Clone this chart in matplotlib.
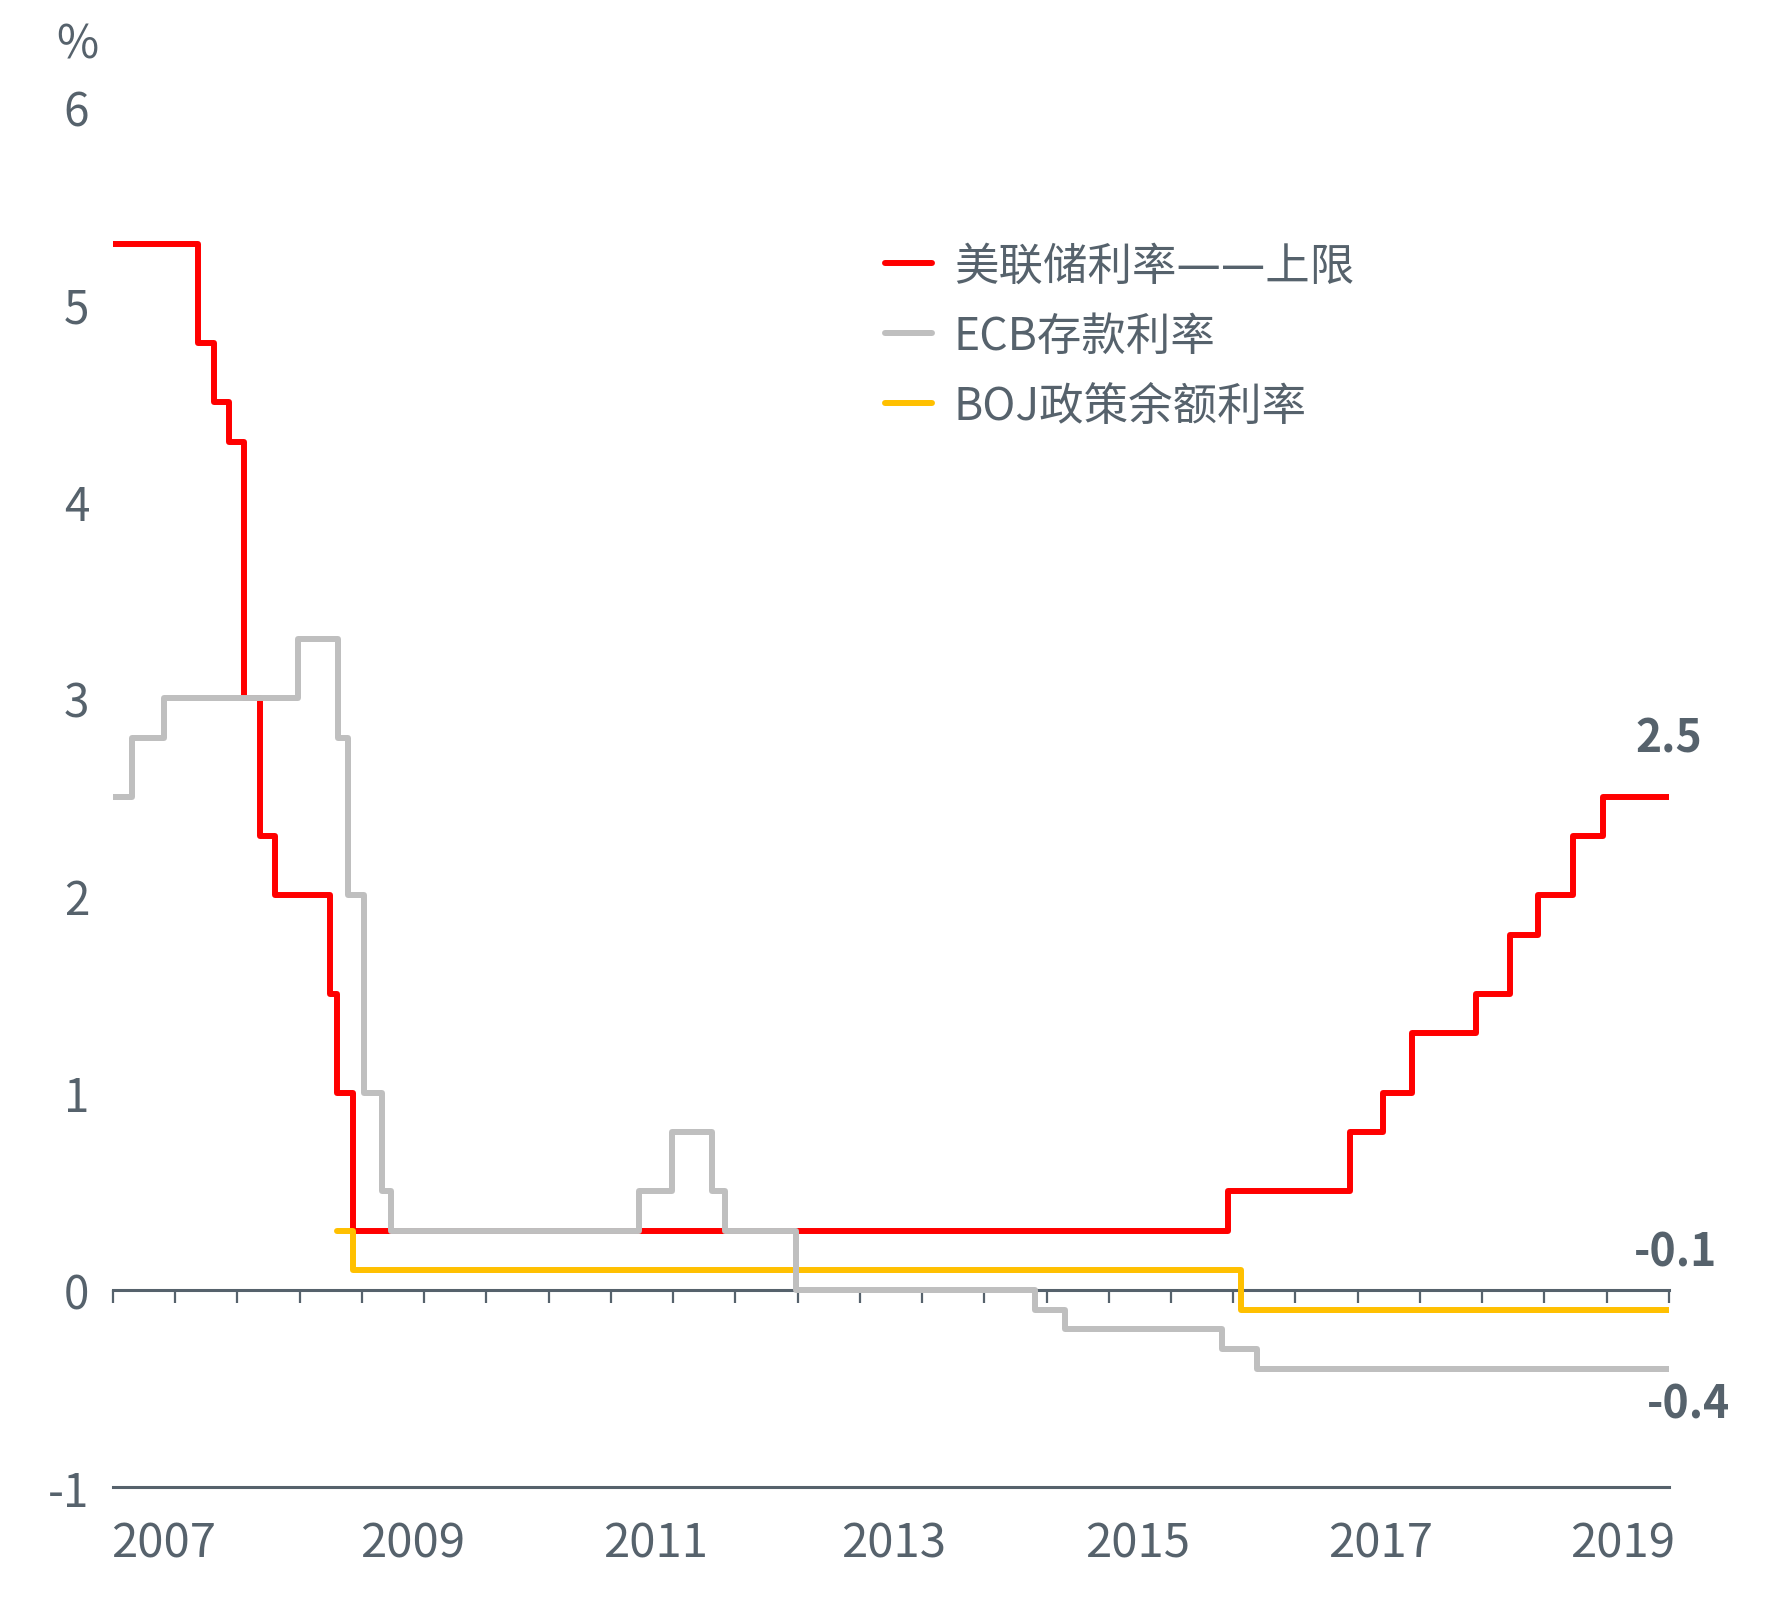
import matplotlib.pyplot as plt
from matplotlib.ticker import MultipleLocator

plt.rcParams['font.family'] = ['Noto Sans CJK SC', 'DejaVu Sans']
plt.rcParams['axes.unicode_minus'] = False

# step series: date (decimal year) where a rate starts, and the rate
fed_dates = [2007.0, 2007.68, 2007.81, 2007.93, 2008.05, 2008.18, 2008.30, 2008.74,
             2008.80, 2008.93, 2015.96, 2016.94, 2017.20, 2017.44, 2017.95, 2018.22,
             2018.45, 2018.73, 2018.97, 2019.5]
fed_rates = [5.3, 4.8, 4.5, 4.3, 3.0, 2.3, 2.0, 1.5,
             1.0, 0.3, 0.5, 0.8, 1.0, 1.3, 1.5, 1.8,
             2.0, 2.3, 2.5, 2.5]

ecb_dates = [2007.0, 2007.15, 2007.41, 2008.49, 2008.81, 2008.89, 2009.02, 2009.16,
             2009.23, 2011.23, 2011.49, 2011.81, 2011.92, 2012.49, 2014.41, 2014.65,
             2015.91, 2016.19, 2019.5]
ecb_rates = [2.5, 2.8, 3.0, 3.3, 2.8, 2.0, 1.0, 0.5,
             0.3, 0.5, 0.8, 0.5, 0.3, 0.0, -0.1, -0.2,
             -0.3, -0.4, -0.4]

boj_dates = [2008.80, 2008.93, 2016.06, 2019.5]
boj_rates = [0.3, 0.1, -0.1, -0.1]

series_names = ['美联储利率——上限', 'ECB存款利率', 'BOJ政策余额利率']
year_labels = ['2007', '2009', '2011', '2013', '2015', '2017', '2019']
year_label_pos = [2007.41, 2009.41, 2011.36, 2013.27, 2015.23, 2017.18, 2019.13]

RED = '#ff0000'
GREY = '#bfbfbf'
GOLD = '#ffc000'
TXT = '#56626c'

fig = plt.figure(figsize=(17.73, 16.08), dpi=100)
ax = fig.add_axes([0.0637, 0.0746, 0.8776, 0.8586])

lkw = dict(drawstyle='steps-post', lw=4.3, solid_capstyle='round', solid_joinstyle='round')
l_fed, = ax.plot(fed_dates, fed_rates, color=RED, zorder=3, **lkw)
l_boj, = ax.plot(boj_dates, boj_rates, color=GOLD, zorder=4, **lkw)
l_ecb, = ax.plot(ecb_dates, ecb_rates, color=GREY, zorder=5, **lkw)

ax.set_xlim(2007.0, 2019.5)
ax.set_ylim(-1, 6)

for side in ['left', 'top', 'right']:
    ax.spines[side].set_visible(False)
ax.spines['bottom'].set_position(('data', 0))
ax.spines['bottom'].set_color(TXT)
ax.spines['bottom'].set_linewidth(2.2)
ax.spines['bottom'].set_zorder(2)

ax.xaxis.set_major_locator(MultipleLocator(0.5))
ax.tick_params(axis='x', direction='out', length=9.5, width=1.6, color=TXT, labelbottom=False)
ax.set_yticks(range(-1, 7))
ax.tick_params(axis='y', length=0, pad=17, labelsize=33, labelcolor=TXT)

# year labels sit under the -1 line
sec = ax.secondary_xaxis('bottom')
sec.set_xticks(year_label_pos, labels=year_labels)
sec.tick_params(length=0, pad=23, labelsize=34, labelcolor=TXT)
sec.spines['bottom'].set_color(TXT)
sec.spines['bottom'].set_linewidth(2.2)

fig.text(0.0434, 0.972, '%', ha='center', va='center', fontsize=33, color=TXT)

# end values
lbl = dict(textcoords='offset points', ha='center', va='center', fontsize=32,
           fontweight='bold', color=TXT)
ax.annotate(f'{fed_rates[-1]:g}', (fed_dates[-1], fed_rates[-1]), xytext=(0, 42), **lbl)
ax.annotate(f'{boj_rates[-1]:g}', (boj_dates[-1], boj_rates[-1]), xytext=(5, 41), **lbl)
ax.annotate(f'{ecb_rates[-1]:g}', (ecb_dates[-1], ecb_rates[-1]), xytext=(14, -26), **lbl)

leg = ax.legend([l_fed, l_ecb, l_boj], series_names, loc='upper left',
                bbox_to_anchor=(885 / 1773, 1 - 246 / 1608), bbox_transform=fig.transFigure,
                frameon=False, fontsize=32, handlelength=1.05, handletextpad=0.5,
                labelspacing=0.55, borderpad=0, borderaxespad=0)
for t in leg.get_texts():
    t.set_color(TXT)
# long joined dashes in the first label
leg.get_texts()[0].set_fontfamily(['DejaVu Sans', 'Noto Sans CJK SC'])

fig.savefig('out.png', dpi=100)
